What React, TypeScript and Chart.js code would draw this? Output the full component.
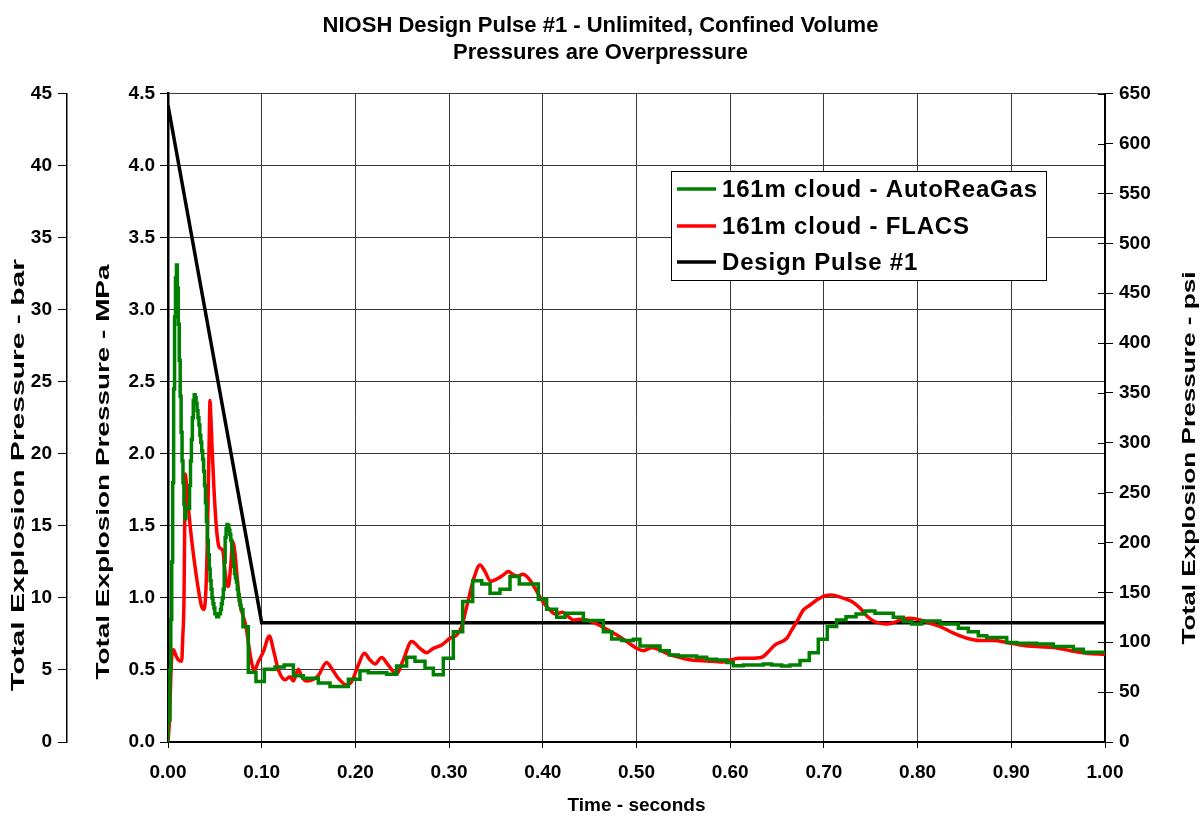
import { useEffect, useRef } from 'react';
import { Chart, registerables } from 'chart.js';

Chart.register(...registerables);

const FONT = "'Liberation Sans', Arial, Helvetica, sans-serif";

const titleLines = ['NIOSH Design Pulse #1 - Unlimited, Confined Volume', 'Pressures are Overpressure'];
const xTitle = 'Time - seconds';
const barTitle = 'Total Explosion Pressure - bar';
const mpaTitle = 'Total Explosion Pressure - MPa';
const psiTitle = 'Total Explosion Pressure - psi';

const seriesLabels = ['161m cloud - AutoReaGas', '161m cloud - FLACS', 'Design Pulse #1'];
const seriesColors = ['#008000', '#ff0000', '#000000'];

// AutoReaGas result (step output, value held from each time until the next one)
const autoTime = [
  0, 0.002, 0.003, 0.004, 0.005, 0.006, 0.007, 0.008, 0.009, 0.010,
  0.011, 0.012, 0.013, 0.014, 0.015, 0.016, 0.017, 0.018, 0.019, 0.023,
  0.024, 0.025, 0.026, 0.027, 0.028, 0.029, 0.030, 0.031, 0.032, 0.033,
  0.034, 0.035, 0.036, 0.037, 0.038, 0.039, 0.040, 0.041, 0.042, 0.043,
  0.044, 0.045, 0.046, 0.047, 0.048, 0.049, 0.050, 0.052, 0.054, 0.056,
  0.057, 0.058, 0.059, 0.060, 0.061, 0.062, 0.063, 0.064, 0.065, 0.066,
  0.067, 0.068, 0.069, 0.070, 0.071, 0.072, 0.073, 0.074, 0.075, 0.076,
  0.077, 0.078, 0.080, 0.0857, 0.0939, 0.1028, 0.1142, 0.124, 0.1338, 0.1444,
  0.1604, 0.1729, 0.1925, 0.2049, 0.2138, 0.2334, 0.2440, 0.2547, 0.2636, 0.2743,
  0.2832, 0.2938, 0.3045, 0.3145, 0.3252, 0.3348, 0.3437, 0.3543, 0.3650, 0.3749,
  0.3952, 0.4041, 0.4148, 0.4237, 0.4433, 0.4646, 0.4735, 0.4842, 0.4966, 0.5037,
  0.5251, 0.5350, 0.5446, 0.5642, 0.5749, 0.5856, 0.5962, 0.6033, 0.6140, 0.6354,
  0.6443, 0.6549, 0.6638, 0.6745, 0.6844, 0.6940, 0.7036, 0.7136, 0.7236, 0.7343,
  0.7439, 0.7545, 0.7741, 0.7847, 0.7937, 0.8043, 0.8239, 0.8435, 0.8541, 0.8648,
  0.8737, 0.8951, 0.9057, 0.9271, 0.9448, 0.9662, 0.9768, 0.9875, 1.0,
];
const autoMPa = [
  0, 0.15, 0.5, 0.85, 1.25, 1.8, 2.45, 2.95, 3.22, 3.31,
  3.15, 2.9, 2.65, 2.4, 2.15, 1.95, 1.8, 1.65, 1.55, 1.62,
  1.78, 1.95, 2.1, 2.25, 2.37, 2.41, 2.39, 2.35, 2.3, 2.25,
  2.2, 2.13, 2.08, 2.02, 1.96, 1.88, 1.78, 1.66, 1.53, 1.40,
  1.30, 1.20, 1.12, 1.06, 1.00, 0.96, 0.93, 0.89, 0.87, 0.89,
  0.92, 0.96, 1.00, 1.06, 1.25, 1.42, 1.48, 1.51, 1.50, 1.47,
  1.44, 1.40, 1.34, 1.28, 1.22, 1.17, 1.14, 1.11, 1.06, 1.02,
  0.98, 0.95, 0.92, 0.80, 0.485, 0.42, 0.505, 0.52, 0.535, 0.459,
  0.442, 0.41, 0.385, 0.436, 0.495, 0.48, 0.47, 0.527, 0.588, 0.56,
  0.512, 0.466, 0.581, 0.766, 0.975, 1.12, 1.097, 1.032, 1.06, 1.148,
  1.097, 0.991, 0.921, 0.866, 0.894, 0.843, 0.766, 0.715, 0.704, 0.713,
  0.667, 0.634, 0.604, 0.597, 0.588, 0.574, 0.569, 0.551, 0.530, 0.535,
  0.541, 0.535, 0.528, 0.535, 0.565, 0.620, 0.713, 0.801, 0.847, 0.870,
  0.889, 0.910, 0.894, 0.866, 0.836, 0.819, 0.840, 0.819, 0.790, 0.766,
  0.738, 0.725, 0.690, 0.685, 0.681, 0.662, 0.643, 0.623, 0.623,
];

// FLACS result
const flacsTime = [
  0, 0.0018, 0.0028, 0.0039, 0.0057, 0.0085, 0.011, 0.0146, 0.0157, 0.0171,
  0.0178, 0.0186, 0.0195, 0.0217, 0.0253, 0.0288, 0.0324, 0.0359, 0.0384, 0.0405,
  0.0420, 0.0430, 0.0441, 0.0448, 0.0458, 0.0470, 0.0491, 0.0519, 0.0548, 0.0584,
  0.0608, 0.0626, 0.0644, 0.0669, 0.0690, 0.0715, 0.0740, 0.0769, 0.0804, 0.0833,
  0.0857, 0.0893, 0.0920, 0.0964, 0.1018, 0.1082, 0.1125, 0.1178, 0.1250, 0.1302,
  0.1338, 0.1391, 0.1427, 0.1480, 0.1551, 0.1604, 0.1693, 0.1746, 0.1818, 0.1907,
  0.1960, 0.2031, 0.2095, 0.2156, 0.2209, 0.2280, 0.2351, 0.2440, 0.2511, 0.2600,
  0.2689, 0.2760, 0.2832, 0.2921, 0.3010, 0.3081, 0.3134, 0.3188, 0.3259, 0.3330,
  0.3383, 0.3444, 0.3525, 0.3579, 0.3632, 0.3686, 0.3739, 0.3785, 0.3846, 0.3917,
  0.3988, 0.4059, 0.4131, 0.4212, 0.4273, 0.4327, 0.4398, 0.4469, 0.4576, 0.4683,
  0.4790, 0.4896, 0.5003, 0.5074, 0.5163, 0.5234, 0.5322, 0.5429, 0.5536, 0.5643,
  0.5749, 0.5856, 0.5927, 0.5998, 0.6105, 0.6212, 0.6336, 0.6408, 0.6479, 0.6604,
  0.6657, 0.6711, 0.6782, 0.6853, 0.6924, 0.7013, 0.7085, 0.7174, 0.7298, 0.7387,
  0.7459, 0.7530, 0.7601, 0.7672, 0.7743, 0.7832, 0.7921, 0.8028, 0.8135, 0.8242,
  0.8384, 0.8527, 0.8669, 0.8811, 0.8954, 0.9096, 0.9274, 0.9452, 0.9630, 0.9808,
  1.0,
];
const flacsMPa = [
  0, 0.18, 0.41, 0.58, 0.64, 0.60, 0.57, 0.56, 0.72, 1.0,
  1.5, 1.86, 1.80, 1.63, 1.40, 1.22, 1.06, 0.94, 0.92, 1.06,
  1.40, 1.75, 2.15, 2.37, 2.25, 2.05, 1.75, 1.47, 1.35, 1.33,
  1.19, 1.10, 1.08, 1.22, 1.39, 1.31, 1.13, 0.96, 0.87, 0.80,
  0.69, 0.55, 0.495, 0.557, 0.627, 0.736, 0.639, 0.50, 0.432, 0.453,
  0.424, 0.505, 0.453, 0.424, 0.435, 0.461, 0.551, 0.511, 0.442, 0.396,
  0.419, 0.534, 0.616, 0.570, 0.542, 0.586, 0.534, 0.472, 0.570, 0.697,
  0.650, 0.620, 0.650, 0.674, 0.720, 0.743, 0.801, 0.940, 1.125, 1.229,
  1.183, 1.115, 1.137, 1.160, 1.183, 1.160, 1.153, 1.164, 1.137, 1.067,
  0.986, 0.928, 0.889, 0.900, 0.870, 0.847, 0.852, 0.847, 0.819, 0.782,
  0.743, 0.697, 0.650, 0.634, 0.655, 0.643, 0.616, 0.593, 0.574, 0.565,
  0.563, 0.558, 0.556, 0.569, 0.581, 0.581, 0.588, 0.627, 0.674, 0.720,
  0.778, 0.836, 0.917, 0.951, 0.986, 1.016, 1.021, 1.005, 0.975, 0.928,
  0.875, 0.840, 0.824, 0.819, 0.829, 0.852, 0.859, 0.847, 0.824, 0.801,
  0.755, 0.720, 0.704, 0.704, 0.690, 0.674, 0.662, 0.655, 0.634, 0.616,
  0.609,
];

// Design Pulse #1: linear decay from peak to 120 psi plateau
const pulseTime = [0, 0.1, 1.0];
const pulseMPa = [4.42, 0.827, 0.827];

// Axis ranges and steps
const timeRange = [0, 1];
const timeStep = 0.1;
const mpaRange = [0, 4.5];
const mpaStep = 0.5;
const barRange = [0, 45];
const barStep = 5;
const psiRange = [0, 650];
const psiStep = 50;

const toPoints = (xs: number[], ys: number[]) => xs.map((x, i) => ({ x, y: ys[i] }));

const tickFont = { family: FONT, size: 19, weight: 'bold' as const };

// Legend box drawn inside the plot area
const legendPlugin = {
  id: 'boxLegend',
  afterDatasetsDraw(chart: any) {
    const { ctx } = chart;
    const left = 671, top = 171, right = 1046, bottom = 280;
    ctx.save();
    ctx.fillStyle = '#ffffff';
    ctx.fillRect(left, top, right - left, bottom - top);
    ctx.strokeStyle = '#000000';
    ctx.lineWidth = 1;
    ctx.strokeRect(left + 0.5, top + 0.5, right - left, bottom - top);
    ctx.font = `bold 24px ${FONT}`;
    (ctx as any).letterSpacing = '0.8px';
    ctx.textBaseline = 'middle';
    ctx.textAlign = 'left';
    const rows = [189, 226, 262];
    chart.data.datasets.forEach((ds: any, i: number) => {
      const y = rows[i];
      ctx.strokeStyle = ds.borderColor;
      ctx.lineWidth = 3.5;
      ctx.beginPath();
      ctx.moveTo(677, y);
      ctx.lineTo(716, y);
      ctx.stroke();
      ctx.fillStyle = '#000000';
      ctx.fillText(ds.label, 722, y + 1);
    });
    (ctx as any).letterSpacing = '0px';
    ctx.restore();
  },
};

// Rotated (lengthened) axis titles and the crossing tick marks on the psi axis
const axisTitlePlugin = {
  id: 'axisTitles',
  afterDraw(chart: any) {
    const { ctx, scales } = chart;
    ctx.save();
    ctx.font = `bold 19px ${FONT}`;
    ctx.fillStyle = '#000000';
    ctx.textAlign = 'center';
    ctx.textBaseline = 'middle';
    const drawRot = (text: string, x: number, y: number, length: number) => {
      const w = ctx.measureText(text).width;
      ctx.save();
      ctx.translate(x, y);
      ctx.rotate(-Math.PI / 2);
      ctx.scale(length / w, 1);
      ctx.fillText(text, 0, 0);
      ctx.restore();
    };
    drawRot(barTitle, 19, 475, 432);
    drawRot(mpaTitle, 104, 472, 415);
    drawRot(psiTitle, 1190, 458, 373);

    const psi = scales.psi;
    ctx.strokeStyle = '#000000';
    ctx.lineWidth = 1;
    psi.ticks.forEach((t: any) => {
      const y = Math.round(psi.getPixelForValue(t.value)) + 0.5;
      ctx.beginPath();
      ctx.moveTo(psi.left - 7, y);
      ctx.lineTo(psi.left, y);
      ctx.stroke();
    });
    ctx.restore();
  },
};

export default function App() {
  const canvasRef = useRef<HTMLCanvasElement | null>(null);

  useEffect(() => {
    if (!canvasRef.current) return;
    const chart = new Chart(canvasRef.current, {
      type: 'line',
      data: {
        datasets: [
          {
            label: seriesLabels[0],
            data: toPoints(autoTime, autoMPa),
            borderColor: seriesColors[0],
            borderWidth: 3.5,
            pointRadius: 0,
            stepped: 'after',
            yAxisID: 'y',
          },
          {
            label: seriesLabels[1],
            data: toPoints(flacsTime, flacsMPa),
            borderColor: seriesColors[1],
            borderWidth: 3.5,
            pointRadius: 0,
            cubicInterpolationMode: 'monotone',
            yAxisID: 'y',
          },
          {
            label: seriesLabels[2],
            data: toPoints(pulseTime, pulseMPa),
            borderColor: seriesColors[2],
            borderWidth: 3.5,
            pointRadius: 0,
            tension: 0,
            yAxisID: 'y',
          },
        ],
      },
      options: {
        animation: false,
        responsive: true,
        maintainAspectRatio: false,
        layout: { padding: 0 },
        plugins: {
          legend: { display: false },
          tooltip: { enabled: false },
          title: {
            display: true,
            text: titleLines,
            color: '#000000',
            font: { family: FONT, size: 22, weight: 'bold', lineHeight: 1.22 },
            padding: { top: 13, bottom: 27 },
          },
        },
        scales: {
          x: {
            type: 'linear',
            min: timeRange[0],
            max: timeRange[1],
            ticks: {
              stepSize: timeStep,
              color: '#000000',
              font: tickFont,
              padding: 13,
              maxRotation: 0,
              callback: (v: any) => Number(v).toFixed(2),
            },
            grid: { color: '#3a3a3a', lineWidth: 1, tickLength: 6, tickColor: '#000000' },
            border: { color: '#000000', width: 2 },
            title: {
              display: true,
              text: xTitle,
              color: '#000000',
              font: { family: FONT, size: 19, weight: 'bold' },
              padding: { top: 0, bottom: 0 },
            },
            afterFit: (s: any) => { s.height = 75; },
          },
          y: {
            type: 'linear',
            position: 'left',
            weight: 0,
            min: mpaRange[0],
            max: mpaRange[1],
            ticks: {
              stepSize: mpaStep,
              color: '#000000',
              font: tickFont,
              padding: 5,
              callback: (v: any) => Number(v).toFixed(1),
            },
            grid: { color: '#3a3a3a', lineWidth: 1, tickLength: 8, tickColor: '#000000' },
            border: { color: '#000000', width: 2.5 },
            afterFit: (s: any) => { s.width = 101; },
          },
          bar: {
            type: 'linear',
            position: 'left',
            weight: 1,
            min: barRange[0],
            max: barRange[1],
            ticks: {
              stepSize: barStep,
              color: '#000000',
              font: tickFont,
              padding: 6,
            },
            grid: { drawOnChartArea: false, tickLength: 9, tickColor: '#000000' },
            border: { color: '#000000', width: 1.5 },
            afterFit: (s: any) => { s.width = 67; },
          },
          psi: {
            type: 'linear',
            position: 'right',
            min: psiRange[0],
            max: psiRange[1],
            ticks: {
              stepSize: psiStep,
              color: '#000000',
              font: tickFont,
              padding: 6,
            },
            grid: { drawOnChartArea: false, tickLength: 8, tickColor: '#000000' },
            border: { color: '#000000', width: 2 },
            afterFit: (s: any) => { s.width = 96; },
          },
        },
      },
      plugins: [legendPlugin, axisTitlePlugin],
    } as any);
    return () => chart.destroy();
  }, []);

  return (
    <div style={{ position: 'fixed', left: 0, top: 0, width: 1201, height: 817, background: '#ffffff' }}>
      <canvas ref={canvasRef} />
    </div>
  );
}
